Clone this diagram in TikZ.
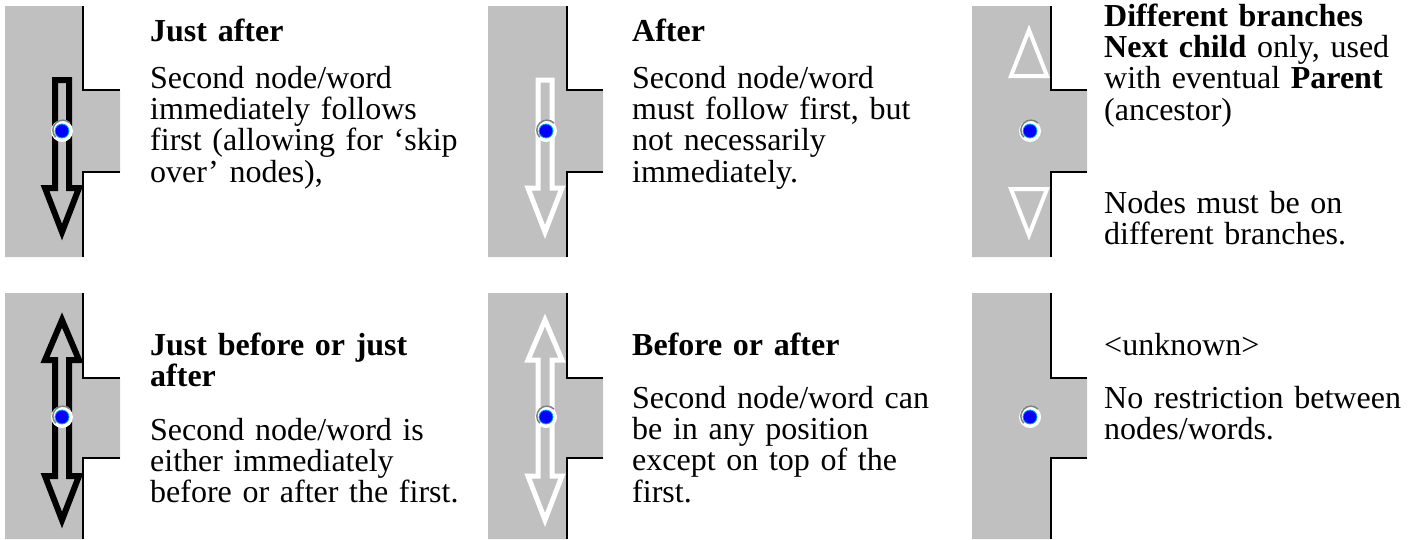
\documentclass[tikz,border=0pt]{standalone}
\usepackage{fontspec}
\setmainfont{Liberation Serif}

\definecolor{panelgray}{RGB}{192,192,192}
\definecolor{halogray}{RGB}{128,128,128}

\tikzset{
	panel/.style={fill=panelgray, draw=none},
	rim/.style={draw=black, line width=2pt},
	blkarrow/.style={draw=black, fill=panelgray, line width=6pt, line join=miter},
	whtarrow/.style={draw=white, fill=panelgray, line width=5pt, line join=miter},
	whttri/.style={draw=white, fill=panelgray, line width=4pt, line join=miter},
	ring/.style={circle, fill=white, inner sep=0pt, minimum size=22pt},
	halo/.style={draw=halogray, line width=1.5pt},
	knob/.style={circle, fill=blue, draw=cyan, line width=0.8pt, inner sep=0pt, minimum size=14pt},
	caption/.style={anchor=base west, inner sep=0pt, text width=330pt, align=left,
		font=\fontsize{32}{31.4}\selectfont}
}

\begin{document}
\begin{tikzpicture}[x=1pt, y=-1pt]
	\useasboundingbox (0,0) rectangle (1428,539);

	% top row panels
	\fill[panel] (5,6) -- (83,6) -- (83,90) -- (120,90) -- (120,172) -- (83,172) -- (83,257) -- (5,257) -- cycle;
	\draw[rim] (83,6) -- (83,90) -- (120,90);
	\draw[rim] (120,172) -- (83,172) -- (83,257);

	\fill[panel] (488,6) -- (567,6) -- (567,90) -- (603,90) -- (603,172) -- (567,172) -- (567,257) -- (488,257) -- cycle;
	\draw[rim] (567,6) -- (567,90) -- (603,90);
	\draw[rim] (603,172) -- (567,172) -- (567,257);

	\fill[panel] (972,6) -- (1051,6) -- (1051,90) -- (1087,90) -- (1087,172) -- (1051,172) -- (1051,257) -- (972,257) -- cycle;
	\draw[rim] (1051,6) -- (1051,90) -- (1087,90);
	\draw[rim] (1087,172) -- (1051,172) -- (1051,257);

	% bottom row panels
	\fill[panel] (5,293) -- (83,293) -- (83,378) -- (120,378) -- (120,458) -- (83,458) -- (83,539) -- (5,539) -- cycle;
	\draw[rim] (83,293) -- (83,378) -- (120,378);
	\draw[rim] (120,458) -- (83,458) -- (83,539);

	\fill[panel] (488,293) -- (567,293) -- (567,378) -- (603,378) -- (603,458) -- (567,458) -- (567,539) -- (488,539) -- cycle;
	\draw[rim] (567,293) -- (567,378) -- (603,378);
	\draw[rim] (603,458) -- (567,458) -- (567,539);

	\fill[panel] (972,293) -- (1051,293) -- (1051,378) -- (1087,378) -- (1087,458) -- (1051,458) -- (1051,539) -- (972,539) -- cycle;
	\draw[rim] (1051,293) -- (1051,378) -- (1087,378);
	\draw[rim] (1087,458) -- (1051,458) -- (1051,539);

	% arrows
	\draw[blkarrow] (55,80) -- (69,80) -- (69,188) -- (79,188) -- (62,232) -- (45,188) -- (55,188) -- cycle;
	\draw[whtarrow] (538,80) -- (552,80) -- (552,188) -- (562,188) -- (545,232) -- (528,188) -- (538,188) -- cycle;
	\draw[whttri] (1029,30) -- (1047,76) -- (1011,76) -- cycle;
	\draw[whttri] (1029,235) -- (1047,189) -- (1011,189) -- cycle;

	\draw[blkarrow] (62,320) -- (79,360) -- (69,360) -- (69,476) -- (79,476) -- (62,520) -- (45,476) -- (55,476) -- (55,360) -- (45,360) -- cycle;
	\draw[whtarrow] (545,320) -- (562,360) -- (552,360) -- (552,476) -- (562,476) -- (545,520) -- (528,476) -- (538,476) -- (538,360) -- (528,360) -- cycle;

	% dots
	\node[ring] (r1) at (62,131) {};
	\node[ring] (r2) at (546,131) {};
	\node[ring] (r3) at (1030,131) {};
	\node[ring] (r4) at (62,417) {};
	\node[ring] (r5) at (546,417) {};
	\node[ring] (r6) at (1030,417) {};
	\draw[halo] (r1.45) arc[start angle=45, end angle=225, radius=10pt];
	\draw[halo] (r2.45) arc[start angle=45, end angle=225, radius=10pt];
	\draw[halo] (r3.45) arc[start angle=45, end angle=225, radius=10pt];
	\draw[halo] (r4.45) arc[start angle=45, end angle=225, radius=10pt];
	\draw[halo] (r5.45) arc[start angle=45, end angle=225, radius=10pt];
	\draw[halo] (r6.45) arc[start angle=45, end angle=225, radius=10pt];
	\node[knob] (k1) at (r1) {};
	\node[knob] (k2) at (r2) {};
	\node[knob] (k3) at (r3) {};
	\node[knob] (k4) at (r4) {};
	\node[knob] (k5) at (r5) {};
	\node[knob] (k6) at (r6) {};

	% texts, top row
	\node[caption] (justafter) at (150,41) {\textbf{Just after}};
	\node[caption] (justafterbody) at (150,88) {Second node/word\\ immediately follows\\
		first (allowing for `skip\\ over' nodes),};
	\node[caption] (after) at (632,41) {\textbf{After}};
	\node[caption] (afterbody) at (632,88) {Second node/word\\ must follow first, but\\
		not necessarily\\ immediately.};
	\node[caption] (branches) at (1104,26) {\textbf{Different branches}\\
		\textbf{Next child} only, used\\ with eventual \textbf{Parent}\\ (ancestor)};
	\node[caption] (branchesbody) at (1104,213) {Nodes must be on\\ different branches.};

	% texts, bottom row
	\node[caption] (justboth) at (150,355) {\textbf{Just before or just}\\ \textbf{after}};
	\node[caption] (justbothbody) at (150,440) {Second node/word is\\ either immediately\\
		before or after the first.};
	\node[caption] (both) at (632,355) {\textbf{Before or after}};
	\node[caption] (bothbody) at (632,408) {Second node/word can\\ be in any position\\
		except on top of the\\ first.};
	\node[caption] (unknown) at (1104,355) {<unknown>};
	\node[caption] (unknownbody) at (1104,408) {No restriction between\\ nodes/words.};
\end{tikzpicture}
\end{document}
